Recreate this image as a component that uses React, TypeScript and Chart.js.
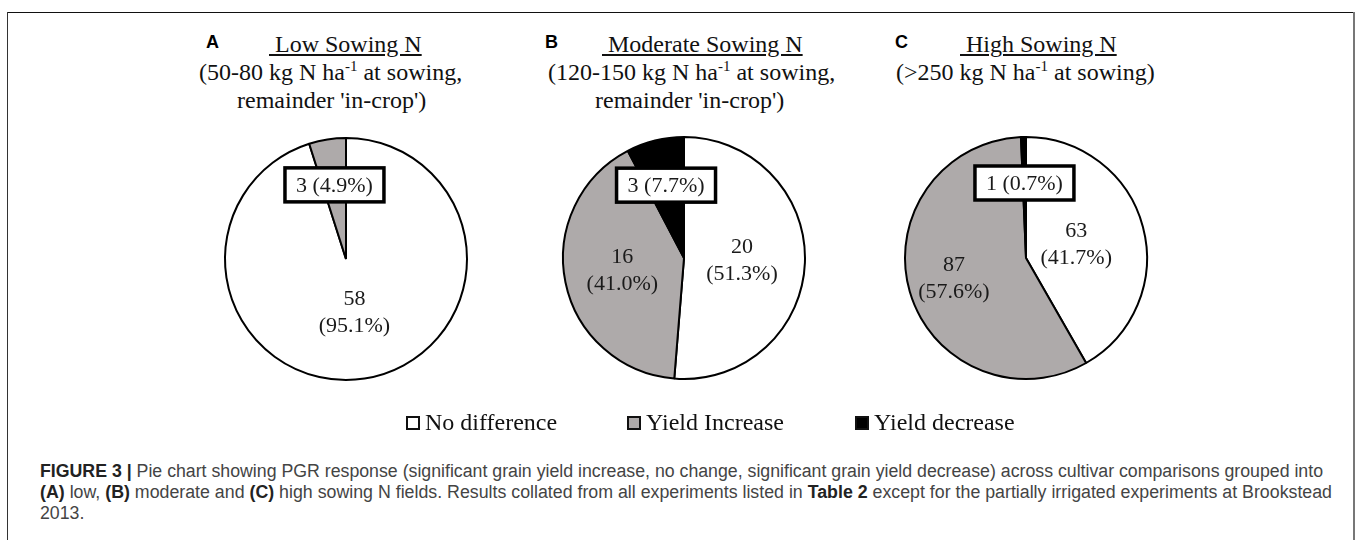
import React, { useEffect, useLayoutEffect, useRef } from 'react';
import { Chart, registerables } from 'chart.js';

Chart.register(...registerables);

// ---------- data ----------
const categories = ['No difference', 'Yield Increase', 'Yield decrease'];
const sliceColors = ['#ffffff', '#aeaaaa', '#000000'];
const panelLetters = ['A', 'B', 'C'];
const panelTitles = ['Low Sowing N', 'Moderate Sowing N', 'High Sowing N'];
const panelSubtitles: [string, string, string][][] = [
  [['(50-80 kg N ha', '-1', ' at sowing,'], ["remainder 'in-crop')", '', '']],
  [['(120-150 kg N ha', '-1', ' at sowing,'], ["remainder 'in-crop')", '', '']],
  [['(>250 kg N ha', '-1', ' at sowing)']],
];
const lowSowingN = [58, 3, 0];
const moderateSowingN = [20, 16, 3];
const highSowingN = [63, 87, 1];
const panelData = [lowSowingN, moderateSowingN, highSowingN];

// ---------- layout ----------
const PIE_RADIUS = 121;
const CANVAS = 300;
const PANELS = [
  { cx: 346, cy: 259, letterX: 206, titleX: 269, lineX: [199, 237], labelDist: [0.45, 0.62, 0.62] },
  { cx: 684, cy: 258, letterX: 545, titleX: 602, lineX: [548, 595], labelDist: [0.48, 0.52, 0.62] },
  { cx: 1026, cy: 258, letterX: 895, titleX: 960, lineX: [896], labelDist: [0.43, 0.62, 0.62] },
];
const SERIF = '"Liberation Serif", "Times New Roman", serif';
const SANS = '"Liberation Sans", Arial, Helvetica, sans-serif';

const sliceLabelPlugin = {
  id: 'sliceLabels',
  afterDatasetsDraw(chart: any, _args: any, opts: any) {
    const ctx = chart.ctx as CanvasRenderingContext2D;
    const meta = chart.getDatasetMeta(0);
    const data = chart.data.datasets[0].data as number[];
    const dist: number[] = opts.dist || [0.5, 0.5, 0.5];
    const total = data.reduce((a, b) => a + b, 0);
    ctx.save();
    ctx.font = `22px ${SERIF}`;
    ctx.textAlign = 'center';
    ctx.textBaseline = 'middle';
    meta.data.forEach((arc: any, i: number) => {
      const v = data[i];
      if (!v) return;
      const pct = ((v / total) * 100).toFixed(1);
      const p = arc.getProps(['x', 'y', 'startAngle', 'endAngle', 'outerRadius'], true);
      const mid = (p.startAngle + p.endAngle) / 2;
      const small = v / total < 0.1;
      const d = p.outerRadius * dist[i];
      const lx = p.x + Math.cos(mid) * d;
      const ly = p.y + Math.sin(mid) * d;
      if (small) {
        const text = `${v} (${pct}%)`;
        const w = ctx.measureText(text).width + 22;
        const h = 34;
        ctx.fillStyle = '#ffffff';
        ctx.fillRect(lx - w / 2, ly - h / 2, w, h);
        ctx.lineWidth = 3.5;
        ctx.strokeStyle = '#000000';
        ctx.strokeRect(lx - w / 2, ly - h / 2, w, h);
        ctx.fillStyle = '#1a1a1a';
        ctx.fillText(text, lx, ly + 1);
      } else {
        ctx.fillStyle = '#1a1a1a';
        ctx.fillText(String(v), lx, ly - 13.5);
        ctx.fillText(`(${pct}%)`, lx, ly + 13.5);
      }
    });
    ctx.restore();
  },
};

function PieCanvas({ values, cx, cy, dist }: { values: number[]; cx: number; cy: number; dist: number[] }) {
  const ref = useRef<HTMLCanvasElement>(null);
  useEffect(() => {
    if (!ref.current) return;
    const chart = new Chart(ref.current, {
      type: 'pie',
      data: {
        labels: categories,
        datasets: [
          {
            data: values,
            backgroundColor: sliceColors,
            borderColor: '#000000',
            borderWidth: 2,
            hoverOffset: 0,
            radius: PIE_RADIUS,
          } as any,
        ],
      },
      options: {
        responsive: false,
        animation: false,
        events: [],
        radius: PIE_RADIUS,
        layout: { padding: 0 },
        plugins: {
          legend: { display: false },
          tooltip: { enabled: false },
          title: { display: false },
          sliceLabels: { dist },
        },
      } as any,
      plugins: [sliceLabelPlugin],
    });
    return () => chart.destroy();
  }, [values]);
  return (
    <canvas
      ref={ref}
      width={CANVAS}
      height={CANVAS}
      style={{ position: 'absolute', left: cx - CANVAS / 2, top: cy - CANVAS / 2, width: CANVAS, height: CANVAS }}
    />
  );
}

const captionLines = [
  [
    { t: 'FIGURE 3 | ', b: true },
    { t: 'Pie chart showing PGR response (significant grain yield increase, no change, significant grain yield decrease) across cultivar comparisons grouped into', b: false },
  ],
  [
    { t: '(A)', b: true },
    { t: ' low, ', b: false },
    { t: '(B)', b: true },
    { t: ' moderate and ', b: false },
    { t: '(C)', b: true },
    { t: ' high sowing N fields. Results collated from all experiments listed in ', b: false },
    { t: 'Table 2', b: true },
    { t: ' except for the partially irrigated experiments at Brookstead', b: false },
  ],
  [{ t: '2013.', b: false }],
];
const CAPTION_X = 40;
const CAPTION_ENDS = [1323, 1332, 0];
const CAPTION_TOP = 461;

function Caption() {
  const refs = [useRef<HTMLDivElement>(null), useRef<HTMLDivElement>(null), useRef<HTMLDivElement>(null)];
  useLayoutEffect(() => {
    let s0 = 1;
    refs.forEach((r, i) => {
      const el = r.current;
      if (!el) return;
      el.style.transform = 'none';
      const w = el.getBoundingClientRect().width;
      let s = s0;
      if (CAPTION_ENDS[i]) s = (CAPTION_ENDS[i] - CAPTION_X) / w;
      if (i === 0) s0 = s;
      el.style.transform = `scaleX(${s})`;
    });
  }, []);
  return (
    <>
      {captionLines.map((line, i) => (
        <div
          key={i}
          ref={refs[i]}
          style={{
            position: 'absolute',
            left: CAPTION_X,
            top: CAPTION_TOP + i * 21,
            whiteSpace: 'nowrap',
            display: 'inline-block',
            transformOrigin: '0 0',
            font: `18px ${SANS}`,
            lineHeight: '21px',
            color: '#444',
          }}
        >
          {line.map((seg, j) => (
            <span key={j} style={{ fontWeight: seg.b ? 700 : 400, color: seg.b ? '#222' : '#444' }}>
              {seg.t}
            </span>
          ))}
        </div>
      ))}
    </>
  );
}

const legendBoxX = [406, 627, 855];

export default function App() {
  return (
    <div
      style={{
        position: 'fixed',
        left: 0,
        top: 0,
        width: 1358,
        height: 540,
        background: '#ffffff',
        overflow: 'hidden',
        fontFamily: SERIF,
        color: '#111',
      }}
    >
      {/* frame */}
      <div style={{ position: 'absolute', left: 7, top: 12, width: 1347, height: 1, background: '#111' }} />
      <div style={{ position: 'absolute', left: 7, top: 12, width: 1, height: 540, background: '#333' }} />
      <div style={{ position: 'absolute', left: 1353, top: 12, width: 2, height: 540, background: '#777' }} />

      {PANELS.map((p, i) => (
        <React.Fragment key={i}>
          <div
            style={{
              position: 'absolute',
              left: p.letterX,
              top: 31,
              font: `bold 18px ${SANS}`,
              lineHeight: '22px',
              color: '#000',
            }}
          >
            {panelLetters[i]}
          </div>
          <div
            style={{
              position: 'absolute',
              left: p.titleX,
              top: 30,
              fontSize: 24,
              lineHeight: '28px',
              whiteSpace: 'pre',
              textDecoration: 'underline',
              textDecorationThickness: '1.5px',
              textUnderlineOffset: '2px',
            }}
          >
            {'\u00a0' + panelTitles[i]}
          </div>
          {panelSubtitles[i].map((ln, k) => (
            <div
              key={k}
              style={{
                position: 'absolute',
                left: p.lineX[k],
                top: 58 + k * 28,
                fontSize: 24,
                lineHeight: '28px',
                whiteSpace: 'pre',
              }}
            >
              {ln[0]}
              {ln[1] ? <span style={{ fontSize: 15, position: 'relative', top: -9 }}>{ln[1]}</span> : null}
              {ln[2]}
            </div>
          ))}
          <PieCanvas values={panelData[i]} cx={p.cx} cy={p.cy} dist={p.labelDist} />
        </React.Fragment>
      ))}

      {/* legend */}
      {categories.map((c, i) => (
        <React.Fragment key={c}>
          <div
            style={{
              position: 'absolute',
              left: legendBoxX[i],
              top: 416,
              width: 14,
              height: 14,
              boxSizing: 'border-box',
              border: '2px solid #111',
              background: sliceColors[i],
            }}
          />
          <div
            style={{
              position: 'absolute',
              left: legendBoxX[i] + 19,
              top: 408,
              fontSize: 24,
              lineHeight: '28px',
              whiteSpace: 'pre',
            }}
          >
            {c}
          </div>
        </React.Fragment>
      ))}

      <Caption />
    </div>
  );
}
